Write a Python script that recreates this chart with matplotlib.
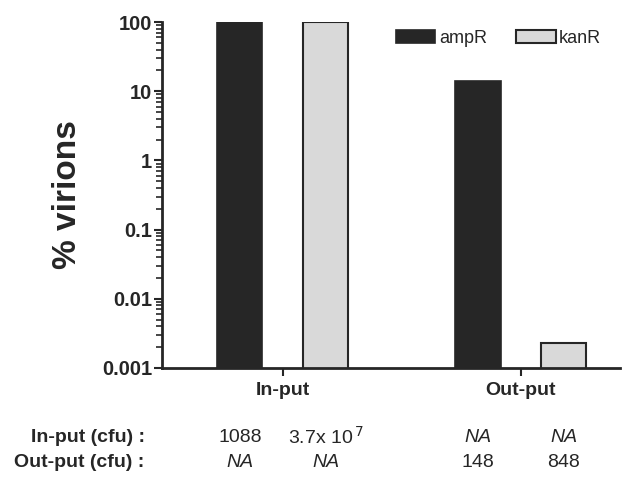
import matplotlib
matplotlib.use("Agg")
import matplotlib.pyplot as plt
import numpy as np
from matplotlib.ticker import FixedLocator, FixedFormatter, NullFormatter

plt.rcParams['font.family'] = ['Liberation Sans', 'DejaVu Sans']

groups = ["In-put", "Out-put"]
series = ["ampR", "kanR"]
ampR = [100, 14]
kanR = [100, 0.0023]
row_labels = ["In-put (cfu) :", "Out-put (cfu) :"]
inp_vals = ["1088", r"3.7x 10$^{\,7}$", "NA", "NA"]
out_vals = ["NA", "NA", "148", "848"]
yticks = [0.001, 0.01, 0.1, 1, 10, 100]
ytick_labels = ["0.001", "0.01", "0.1", "1", "10", "100"]

fig = plt.figure(figsize=(6.37, 4.79), dpi=100)
ax = fig.add_axes([0.254, 0.232, 0.719, 0.722])

x = np.arange(len(groups))
off = 0.18
w = 0.19
ax.bar(x - off, ampR, w, color="#262626", edgecolor="#262626", linewidth=1.2, label="ampR")
ax.bar(x + off, kanR, w, color="#d9d9d9", edgecolor="#262626", linewidth=1.5, label="kanR")

ax.set_yscale("log")
ax.set_ylim(0.001, 100)
ax.set_xlim(-0.508, 1.416)
ax.yaxis.set_major_locator(FixedLocator(yticks))
ax.yaxis.set_major_formatter(FixedFormatter(ytick_labels))
minor = [m * d for d in yticks[:-1] for m in range(2, 10)]
ax.yaxis.set_minor_locator(FixedLocator(minor))
ax.yaxis.set_minor_formatter(NullFormatter())
for lab in ax.get_yticklabels():
    lab.set_fontweight("bold")
    lab.set_fontsize(14.5)
    lab.set_color("#262626")
ax.tick_params(axis="y", which="major", direction="out", length=6, width=1.5,
               color="#262626", pad=1)
ax.tick_params(axis="y", which="minor", direction="out", length=4, width=1.2,
               color="#262626", left=True)

ax.set_xticks(x)
ax.set_xticklabels(groups, fontsize=14, fontweight="bold", color="#262626")
ax.tick_params(axis="x", length=6, width=1.5, color="#262626", pad=4)

for s in ["top", "right"]:
    ax.spines[s].set_visible(False)
for s in ["left", "bottom"]:
    ax.spines[s].set_linewidth(2)
    ax.spines[s].set_color("#262626")

ax.set_ylabel("% virions", fontsize=24, fontweight="bold", color="#262626", labelpad=14)

leg = ax.legend(loc="upper right", bbox_to_anchor=(0.995, 1.025), ncol=2, frameon=False,
                fontsize=13, handlelength=2.2, handleheight=0.8, columnspacing=1.6,
                handletextpad=0.2)
for t in leg.get_texts():
    t.set_color("#262626")

# table under the chart
bar_x = [x[0] - off, x[0] + off, x[1] - off, x[1] + off]
trans = ax.get_xaxis_transform()
row_y = [-0.2, -0.275]
for ry, lab, vals in zip(row_y, row_labels, [inp_vals, out_vals]):
    ax.text(-0.58, ry, lab, transform=trans, ha="right", va="center",
            fontsize=14, fontweight="bold", color="#262626")
    for bx, v in zip(bar_x, vals):
        style = "italic" if v == "NA" else "normal"
        ax.text(bx, ry, v, transform=trans, ha="center", va="center",
                fontsize=14, style=style, color="#262626")

fig.savefig("out.png", dpi=100)
